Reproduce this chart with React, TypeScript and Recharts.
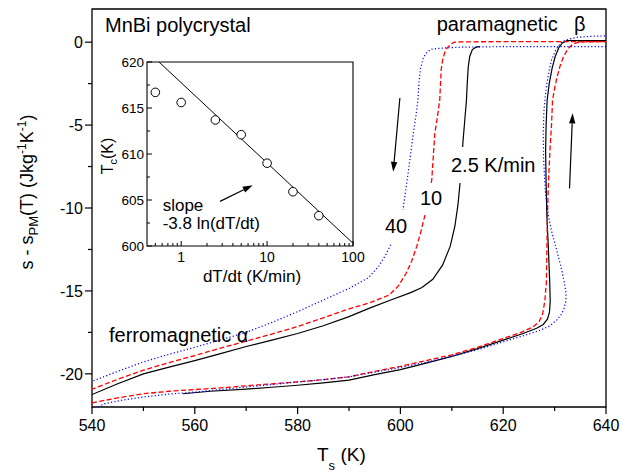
import React from 'react';
import { ComposedChart, Line, XAxis, YAxis, ReferenceArea, ReferenceLine, Scatter } from 'recharts';

const FONT = '"Liberation Sans", Arial, Helvetica, sans-serif';

// ---- main plot axes ----
const xTicks = [540, 550, 560, 570, 580, 590, 600, 610, 620, 630, 640];
const yTicks = [-20, -17.5, -15, -12.5, -10, -7.5, -5, -2.5, 0];

type P = [number, number];

// cooling curves (T_s in K, s - s_PM in J/kg/K)
const cool25: P[] = [
  [615.5, -0.27], [614.7, -0.3], [614.0, -0.45], [613.5, -0.85], [613.2, -1.5], [613.0, -2.5],
  [612.85, -3.5], [612.5, -4.8], [612.2, -5.9], [611.9, -7.2], [611.6, -8.5], [611.2, -9.8],
  [610.6, -11.1], [609.7, -12.3], [608.2, -13.45], [606.3, -14.3], [604.2, -14.8], [602, -15.1],
  [598, -15.56], [594, -16.04], [590, -16.55], [585, -17.1], [580, -17.57], [575, -17.97],
  [570, -18.35], [565, -18.78], [560, -19.2], [555, -19.6], [550, -20.0], [545, -20.6], [540, -21.25],
];
const cool10: P[] = [
  [640, 0.03], [620, 0.03], [612, 0.02], [610.5, 0.0], [609.8, -0.12], [609.1, -0.35], [608.6, -0.65],
  [608.2, -1.1], [607.95, -1.6], [607.8, -2.5], [607.65, -3.5], [607.2, -4.5], [606.7, -5.5],
  [606.4, -6.9], [606.1, -8.3], [605.5, -9.4], [604.8, -10.4], [604.0, -11.4], [603.2, -12.3],
  [602.2, -13.2], [601.1, -13.95], [599.6, -14.7], [597.8, -15.25], [594, -15.72], [590, -16.08],
  [585, -16.62], [580, -17.15], [575, -17.6], [570, -18.03], [565, -18.45], [560, -18.9],
  [555, -19.32], [550, -19.78], [545, -20.33], [540, -20.93],
];
const cool40: P[] = [
  [640, -0.27], [620, -0.27], [612, -0.3], [608, -0.36], [606, -0.42], [605.2, -0.6], [604.5, -0.9],
  [603.9, -1.6], [603.6, -2.5], [603.4, -3.5], [603.0, -4.5], [602.5, -5.5], [602.0, -6.7],
  [601.5, -7.9], [601.0, -9.0], [600.5, -10.1], [599.5, -11.2], [598.3, -12.1], [597.1, -12.85],
  [595.8, -13.5], [593.8, -14.2], [590, -14.85], [585, -15.55], [580, -16.25], [575, -16.9],
  [570, -17.5], [565, -17.95], [560, -18.4], [555, -18.82], [550, -19.28], [545, -19.85], [540, -20.45],
];

// heating curves
const heat25: P[] = [
  [557.7, -21.2], [563, -21.05], [570, -20.92], [575, -20.81], [580, -20.69], [585, -20.55],
  [590, -20.38], [595, -20.05], [600, -19.75], [605, -19.35], [610, -18.95], [615, -18.48],
  [620, -17.97], [624, -17.55], [626.5, -17.25], [627.8, -17.02], [628.6, -16.7], [629.0, -16.3],
  [629.15, -15.6], [629.05, -14.5], [628.8, -12.5], [628.5, -10.5], [628.35, -8.5], [628.25, -6.5],
  [628.35, -5.0], [628.55, -3.5], [628.95, -2.5], [629.5, -1.6], [630.1, -0.88], [630.8, -0.35],
  [631.5, -0.05], [632.4, 0.09], [640, 0.09],
];
const heat10: P[] = [
  [540, -21.75], [545, -21.45], [550, -21.2], [555, -21.05], [560, -20.95], [565, -20.85],
  [570, -20.72], [575, -20.6], [580, -20.49], [585, -20.35], [590, -20.18], [595, -19.85],
  [600, -19.55], [605, -19.2], [610, -18.85], [615, -18.4], [620, -17.87], [623.5, -17.5],
  [625.8, -17.17], [627.0, -16.85], [627.7, -16.35], [628.1, -15.6], [628.4, -14.5], [628.5, -12.5],
  [628.6, -10.5], [628.8, -8.5], [629.1, -6.5], [629.4, -5.0], [629.6, -3.5], [630.0, -2.8],
  [630.4, -2.2], [631.0, -1.5], [631.7, -0.9], [632.6, -0.4], [633.5, -0.13], [634.5, -0.02],
  [636, 0.02], [640, 0.03],
];
const heat40: P[] = [
  [540, -22.15], [542.5, -21.8], [546, -21.58], [550, -21.4], [555, -21.22], [560, -21.1],
  [565, -20.95], [570, -20.79], [575, -20.65], [580, -20.49], [585, -20.35], [590, -20.18],
  [595, -19.9], [600, -19.62], [605, -19.3], [610, -18.95], [615, -18.55], [620, -18.07],
  [624, -17.7], [627.2, -17.37], [629, -17.12], [630.4, -16.76], [631.3, -16.42], [631.8, -16.1],
  [632.2, -15.6], [632.2, -15.1], [631.9, -14.5], [631.2, -13.5], [630.4, -12.54], [629.5, -11.5],
  [628.8, -10.5], [628.2, -9.0], [627.85, -7.0], [627.8, -5.5], [627.9, -4.3], [628.1, -3.5],
  [628.5, -2.48], [629.0, -1.6], [629.4, -1.08], [630.3, -0.42], [631.4, 0.03], [633, 0.2],
  [634.5, 0.3], [637, 0.35], [640, 0.38],
];

// arrows (data coordinates)
const arrowCool: P[] = [[599.9, -3.37], [598.6, -7.82]];
const arrowHeat: P[] = [[632.9, -8.82], [633.5, -4.29]];

// ---- inset ----
const insetXTicks = [0.5, 0.6, 0.7, 0.8, 0.9, 1, 2, 3, 4, 5, 6, 7, 8, 9, 10, 20, 30, 40, 50, 60, 70, 80, 90, 100];
const insetYTicks = [600, 602.5, 605, 607.5, 610, 612.5, 615, 617.5, 620];
const tcPoints: P[] = [[0.5, 616.7], [1, 615.6], [2.5, 613.7], [5, 612.1], [10, 609.0], [20, 605.9], [40, 603.3]];
const tcFit: P[] = [[0.552, 620], [100, 600.3]];
const arrowInset: P[] = [[2.83, 604.85], [6.8, 606.6]];

const toPts = (a: P[]) => a.map(([x, y]) => ({ x, y }));
const seg = (a: P[]) => a.map(([x, y]) => ({ x, y }));

const arrowShape = (p: any) => {
  const { x1, y1, x2, y2 } = p;
  const ang = Math.atan2(y2 - y1, x2 - x1);
  const L = 10, W = 3.2;
  const bx = x2 - L * Math.cos(ang), by = y2 - L * Math.sin(ang);
  const px = -Math.sin(ang) * W, py = Math.cos(ang) * W;
  return (
    <g>
      <line x1={x1} y1={y1} x2={bx} y2={by} stroke="#000" strokeWidth={1.2} />
      <polygon points={`${x2},${y2} ${bx + px},${by + py} ${bx - px},${by - py}`} fill="#000" />
    </g>
  );
};

const MainXTick = (p: any) => {
  const { x, y, payload } = p;
  const v = payload.value;
  const major = v % 20 === 0;
  return (
    <g>
      <line x1={x} x2={x} y1={y} y2={y + (major ? 7 : 4)} stroke="#000" strokeWidth={1.2} />
      {major && (
        <text x={x} y={y + 24} textAnchor="middle" fontSize={16} fontFamily={FONT} fill="#000">{v}</text>
      )}
    </g>
  );
};
const MainYTick = (p: any) => {
  const { x, y, payload } = p;
  const v = payload.value;
  const major = v % 5 === 0;
  return (
    <g>
      <line x1={x} x2={x - (major ? 7 : 4)} y1={y} y2={y} stroke="#000" strokeWidth={1.2} />
      {major && (
        <text x={x - 9} y={y + 5.8} textAnchor="end" fontSize={16} fontFamily={FONT} fill="#000">{v}</text>
      )}
    </g>
  );
};
const InsetXTick = (p: any) => {
  const { x, y, payload } = p;
  const v = payload.value;
  const major = v === 1 || v === 10 || v === 100;
  return (
    <g>
      <line x1={x} x2={x} y1={y} y2={y - (major ? 5 : 3)} stroke="#000" strokeWidth={1} />
      {major && (
        <text x={x} y={y + 16} textAnchor="middle" fontSize={14} fontFamily={FONT} fill="#000">{v}</text>
      )}
    </g>
  );
};
const InsetYTick = (p: any) => {
  const { x, y, payload } = p;
  const v = payload.value;
  const major = v % 5 === 0;
  return (
    <g>
      <line x1={x} x2={x + (major ? 5 : 3)} y1={y} y2={y} stroke="#000" strokeWidth={1} />
      {major && (
        <text x={x - 3} y={y + 5} textAnchor="end" fontSize={13.5} fontFamily={FONT} fill="#000">{v}</text>
      )}
    </g>
  );
};

const circleShape = (p: any) => (
  <circle cx={p.cx} cy={p.cy} r={4.3} fill="#fff" stroke="#000" strokeWidth={1} />
);

const abs: React.CSSProperties = { position: 'absolute', left: 0, top: 0 };

export default function App() {
  return (
    <div style={{ position: 'absolute', left: 0, top: 0, width: 622, height: 472, background: '#fff', fontFamily: FONT }}>
      <div style={abs}>
        <ComposedChart width={622} height={472} margin={{ top: 9, right: 16, left: 0, bottom: 0 }}>
          <XAxis dataKey="x" type="number" domain={[540, 640]} allowDataOverflow ticks={xTicks} interval={0}
            height={65} tickSize={0} tickMargin={0} axisLine={false} tick={MainXTick} />
          <YAxis dataKey="y" type="number" domain={[-22, 2]} allowDataOverflow ticks={yTicks} interval={0}
            width={92} tickSize={0} tickMargin={0} axisLine={false} tick={MainYTick} />
          <ReferenceArea x1={540} x2={640} y1={-22} y2={2} fill="none" stroke="#000" strokeWidth={1.3} />
          <Line data={toPts(cool25)} dataKey="y" type="linear" stroke="#000" strokeWidth={1.2} dot={false} isAnimationActive={false} />
          <Line data={toPts(heat25)} dataKey="y" type="linear" stroke="#000" strokeWidth={1.2} dot={false} isAnimationActive={false} />
          <Line data={toPts(cool10)} dataKey="y" type="linear" stroke="#ff0000" strokeWidth={1.3} strokeDasharray="5 2.5" dot={false} isAnimationActive={false} />
          <Line data={toPts(heat10)} dataKey="y" type="linear" stroke="#ff0000" strokeWidth={1.3} strokeDasharray="5 2.5" dot={false} isAnimationActive={false} />
          <Line data={toPts(cool40)} dataKey="y" type="linear" stroke="#0000ff" strokeWidth={1.2} strokeDasharray="1.2 2.2" dot={false} isAnimationActive={false} />
          <Line data={toPts(heat40)} dataKey="y" type="linear" stroke="#0000ff" strokeWidth={1.2} strokeDasharray="1.2 2.2" dot={false} isAnimationActive={false} />
          <ReferenceLine segment={seg(arrowCool)} shape={arrowShape} />
          <ReferenceLine segment={seg(arrowHeat)} shape={arrowShape} />
        </ComposedChart>
      </div>

      <div style={abs}>
        <ComposedChart width={400} height={300} margin={{ top: 62, right: 47, left: 0, bottom: 0 }}>
          <XAxis dataKey="x" type="number" scale="log" domain={[0.4, 100]} allowDataOverflow ticks={insetXTicks} interval={0}
            height={54} tickSize={0} tickMargin={0} axisLine={false} tick={InsetXTick} />
          <YAxis dataKey="y" type="number" domain={[600, 620]} allowDataOverflow ticks={insetYTicks} interval={0}
            width={147} tickSize={0} tickMargin={0} axisLine={false} tick={InsetYTick} />
          <ReferenceArea x1={0.4} x2={100} y1={600} y2={620} fill="none" stroke="#000" strokeWidth={1.1} />
          <Line data={toPts(tcFit)} dataKey="y" type="linear" stroke="#000" strokeWidth={1} dot={false} isAnimationActive={false} />
          <Scatter data={toPts(tcPoints)} dataKey="y" shape={circleShape} isAnimationActive={false} />
          <ReferenceLine segment={seg(arrowInset)} shape={arrowShape} />
        </ComposedChart>
      </div>

      <svg style={{ ...abs, pointerEvents: 'none' }} width={622} height={472}>
        <g fontFamily={FONT} fill="#000">
          <text x={105} y={32} fontSize={20}>MnBi polycrystal</text>
          <text x={436.7} y={31} fontSize={20}>paramagnetic</text>
          <text x={574} y={31} fontSize={20}>β</text>
          <text x={109} y={342} fontSize={20}>ferromagnetic α</text>

          <rect x={447} y={147} width={91} height={36} fill="#fff" />
          <text x={451} y={172} fontSize={20}>2.5 K/min</text>
          <rect x={416} y={183} width={29} height={32} fill="#fff" />
          <text x={420} y={205} fontSize={20}>10</text>
          <rect x={381} y={210} width={30} height={33} fill="#fff" />
          <text x={385} y={233} fontSize={20}>40</text>

          <text x={162.7} y={211} fontSize={17}>slope</text>
          <text x={162.7} y={229} fontSize={17}>-3.8 ln(dT/dt)</text>
          <text x={252} y={282} fontSize={17} textAnchor="middle">dT/dt (K/min)</text>
          <text x={113} y={156} fontSize={16} textAnchor="middle" transform="rotate(-90 113 156)">
            T<tspan dy={4} fontSize={11}>c</tspan><tspan dy={-4}>(K)</tspan>
          </text>

          <text x={317} y={461} fontSize={19}>
            T<tspan dy={9} fontSize={13}>s</tspan><tspan dy={-9}> (K)</tspan>
          </text>
          <text x={33} y={192} fontSize={18} textAnchor="middle" transform="rotate(-90 33 192)">
            s - s<tspan dy={5} fontSize={13}>PM</tspan><tspan dy={-5}>(T) (Jkg</tspan>
            <tspan dy={-7} fontSize={12}>-1</tspan><tspan dy={7}>K</tspan>
            <tspan dy={-7} fontSize={12}>-1</tspan><tspan dy={7}>)</tspan>
          </text>
        </g>
      </svg>
    </div>
  );
}
